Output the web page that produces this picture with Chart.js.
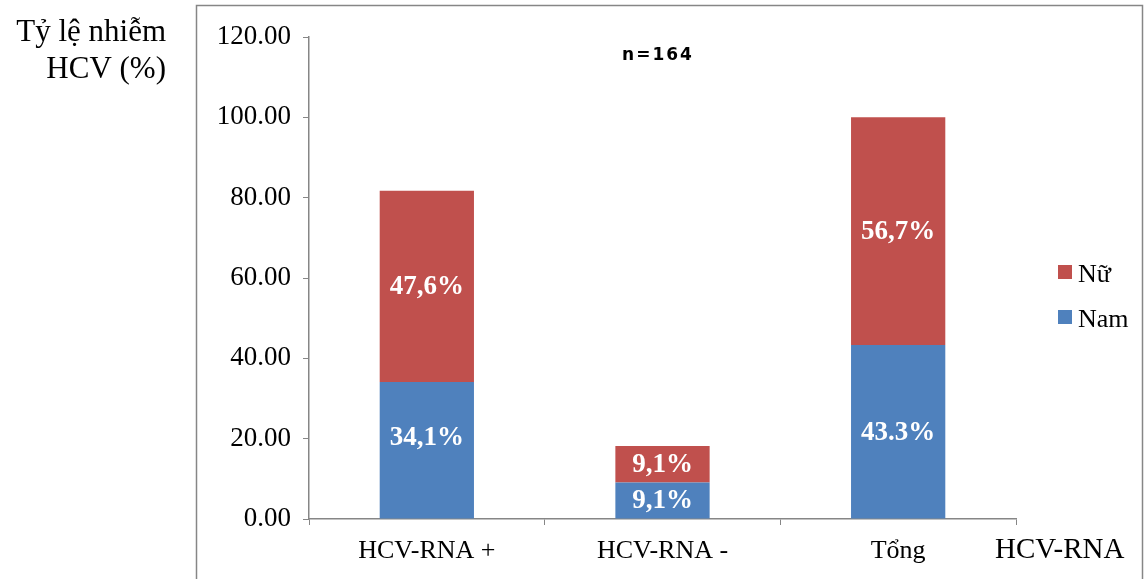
<!DOCTYPE html>
<html>
<head>
<meta charset="utf-8">
<script src="https://cdn.jsdelivr.net/npm/chart.js@4/dist/chart.umd.min.js"></script>
<style>
  html, body { margin: 0; padding: 0; background: #fff; }
  #wrap { width: 1144px; height: 579px; position: relative; }
</style>
</head>
<body>
<div id="wrap"><canvas id="hcv"></canvas></div>
<script>
// số liệu biểu đồ
const categories = ['HCV-RNA +', 'HCV-RNA -', 'Tổng'];
const namValues = [34.1, 9.1, 43.3];
const nuValues = [47.6, 9.1, 56.7];
const namLabels = ['34,1%', '9,1%', '43.3%'];
const nuLabels = ['47,6%', '9,1%', '56,7%'];
const yTicks = [0, 20, 40, 60, 80, 100, 120];

const BLUE = '#4F81BD';
const RED = '#C0504D';
const AXIS = '#868686';
const SERIF = '"Liberation Serif", "Times New Roman", serif';

// khung, tiêu đề trục, chú thích và nhãn giá trị
const extras = {
    id: 'extras',
    afterDraw(chart) {
        const ctx = chart.ctx;
        ctx.save();

        // khung viền
        ctx.strokeStyle = AXIS;
        ctx.lineWidth = 1.5;
        ctx.strokeRect(196.5, 5.5, 946, 590);

        // tiêu đề trục Y
        ctx.fillStyle = '#000';
        ctx.font = '31px ' + SERIF;
        ctx.textAlign = 'right';
        ctx.textBaseline = 'alphabetic';
        ctx.fillText('Tỷ lệ nhiễm', 166, 41);
        ctx.fillText('HCV (%)', 166, 78);

        // tiêu đề trục X
        ctx.textAlign = 'left';
        ctx.font = '29px ' + SERIF;
        ctx.fillText('HCV-RNA', 995, 558);

        // cỡ mẫu
        ctx.textAlign = 'center';
        ctx.font = 'bold 17px "DejaVu Sans"';
        ctx.letterSpacing = '2px';
        ctx.fillText('n=164', 658, 60);
        ctx.letterSpacing = '0px';

        // chú thích (Nữ ở trên, Nam ở dưới)
        const legendRows = [
            { ds: chart.data.datasets[1], y: 265 },
            { ds: chart.data.datasets[0], y: 310 }
        ];
        ctx.font = '26px ' + SERIF;
        ctx.textAlign = 'left';
        legendRows.forEach(r => {
            ctx.fillStyle = r.ds.backgroundColor;
            ctx.fillRect(1058, r.y, 14, 14);
            ctx.fillStyle = '#000';
            ctx.fillText(r.ds.label, 1078, r.y + 17);
        });

        // nhãn giá trị trong cột
        ctx.fillStyle = '#fff';
        ctx.font = 'bold 27px ' + SERIF;
        ctx.textAlign = 'center';
        ctx.textBaseline = 'middle';
        chart.data.datasets.forEach((ds, di) => {
            const meta = chart.getDatasetMeta(di);
            const nudge = ds.labelNudge || [];
            meta.data.forEach((bar, i) => {
                const p = bar.getProps(['x', 'y', 'base'], true);
                ctx.fillText(ds.valueLabels[i], p.x, (p.y + p.base) / 2 + 1 + (nudge[i] || 0));
            });
        });
        ctx.restore();
    }
};

new Chart(document.getElementById('hcv'), {
    type: 'bar',
    data: {
        labels: categories,
        datasets: [
            // nhãn cột đầu tiên hơi dịch lên trên
            { label: 'Nam', data: namValues, valueLabels: namLabels, labelNudge: [-13, 0, 0], backgroundColor: BLUE },
            { label: 'Nữ', data: nuValues, valueLabels: nuLabels, backgroundColor: RED }
        ]
    },
    options: {
        responsive: true,
        maintainAspectRatio: false,
        animation: false,
        layout: { padding: { left: 196, top: 37, right: 128, bottom: 0 } },
        datasets: { bar: { barPercentage: 0.4, categoryPercentage: 1 } },
        plugins: {
            legend: { display: false },
            tooltip: { enabled: false }
        },
        scales: {
            x: {
                stacked: true,
                afterFit(scale) { scale.height = 60; },
                grid: {
                    drawOnChartArea: false,
                    color: AXIS,
                    tickLength: 6,
                    offset: true
                },
                border: { color: AXIS, width: 1.5 },
                ticks: {
                    color: '#000',
                    padding: 11,
                    font: { family: SERIF, size: 26 }
                }
            },
            y: {
                stacked: true,
                min: 0,
                max: 120,
                afterFit(scale) { scale.width = 113; },
                afterBuildTicks(scale) { scale.ticks = yTicks.map(v => ({ value: v })); },
                grid: {
                    drawOnChartArea: false,
                    color: AXIS,
                    tickLength: 6
                },
                border: { color: AXIS, width: 1.5 },
                ticks: {
                    color: '#000',
                    padding: 12,
                    font: { family: SERIF, size: 27 },
                    callback: v => v.toFixed(2)
                }
            }
        }
    },
    plugins: [extras]
});
</script>
</body>
</html>
